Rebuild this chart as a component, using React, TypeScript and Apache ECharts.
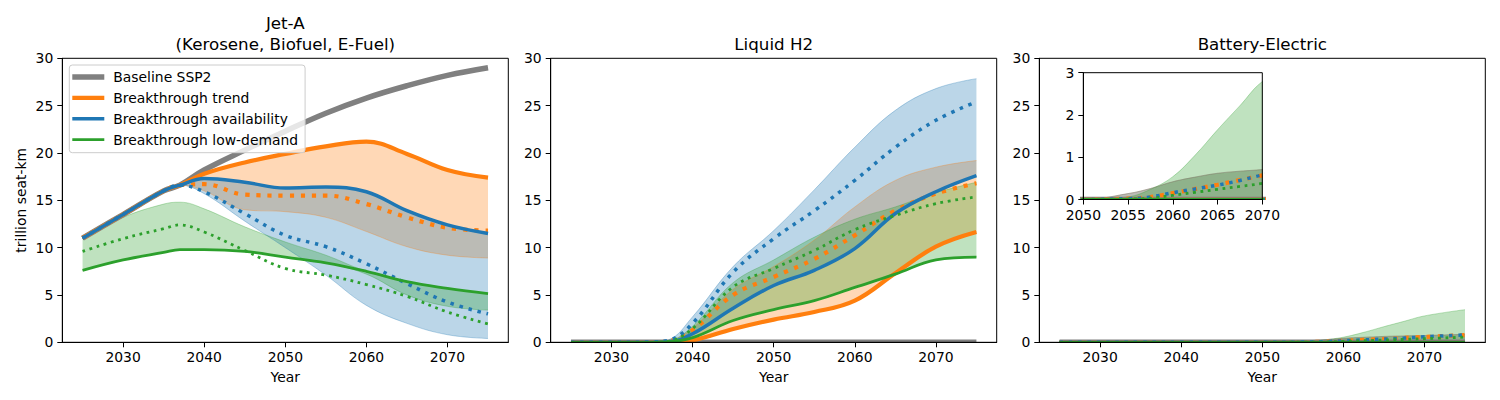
import React, { useEffect, useRef } from 'react';
import * as echarts from 'echarts';

const FONT = 'DejaVu Sans';

// ---------- data ----------
const YEARS = [2025, 2030, 2035, 2037, 2040, 2045, 2050, 2055, 2060, 2065, 2070, 2075];
const BAT_YEARS = [2025, 2030, 2035, 2040, 2045, 2050, 2055, 2057.5, 2060, 2062.5, 2065, 2067.5, 2070, 2075];

const X_TICKS = [2030, 2040, 2050, 2060, 2070];

const SCENARIO_NAMES = ['Baseline SSP2', 'Breakthrough trend', 'Breakthrough availability', 'Breakthrough low-demand'];
const PANEL_TITLES = ['Jet-A\n(Kerosene, Biofuel, E-Fuel)', 'Liquid H2', 'Battery-Electric'];

// Jet-A
const JET_BASELINE = [11.0, 13.5, 16.0, 16.6, 18.2, 20.3, 22.3, 24.2, 25.8, 27.1, 28.2, 29.0];
const JET_TREND_SOLID = [11.0, 13.5, 16.0, 16.6, 17.8, 19.0, 19.9, 20.7, 21.2, 19.9, 18.2, 17.4];
const JET_TREND_DOTTED = [11.0, 13.5, 16.0, 16.6, 16.7, 15.6, 15.5, 15.5, 14.6, 13.2, 12.1, 11.8];
const JET_TREND_BAND = [11.0, 13.5, 16.0, 16.6, 16.0, 14.0, 13.8, 13.2, 11.7, 10.1, 9.2, 8.9];
const JET_AVAIL_SOLID = [11.0, 13.5, 16.0, 16.6, 17.3, 16.9, 16.3, 16.4, 15.9, 13.9, 12.4, 11.5];
const JET_AVAIL_DOTTED = [11.0, 13.5, 16.0, 16.6, 15.9, 13.6, 11.3, 10.1, 8.3, 6.2, 4.25, 3.0];
const JET_AVAIL_BAND = [11.0, 13.5, 16.0, 16.6, 15.7, 12.8, 10.0, 7.1, 3.9, 2.0, 0.8, 0.4];
const JET_LOW_SOLID = [7.6, 8.7, 9.5, 9.8, 9.8, 9.6, 9.0, 8.4, 7.5, 6.4, 5.7, 5.15];
const JET_LOW_DOTTED = [9.6, 10.95, 12.0, 12.4, 11.65, 9.7, 7.8, 7.1, 6.1, 4.85, 3.2, 1.95];
const JET_LOW_BAND = [11.0, 13.2, 14.6, 14.8, 14.1, 12.2, 10.6, 9.2, 7.2, 5.0, 3.8, 3.4];

// Liquid H2
const H2_BASELINE = [0, 0, 0, 0, 0, 0, 0, 0, 0, 0, 0, 0];
const H2_TREND_SOLID = [0, 0, 0, 0, 0.2, 1.4, 2.4, 3.2, 4.4, 7.3, 10.1, 11.65];
const H2_TREND_DOTTED = [0, 0, 0, 0.1, 1.3, 5.0, 6.9, 8.8, 11.3, 13.9, 15.7, 16.8];
const H2_TREND_BAND = [0, 0, 0, 0.12, 1.5, 5.6, 8.0, 10.8, 14.3, 17.1, 18.5, 19.2];
const H2_AVAIL_SOLID = [0, 0, 0, 0.05, 0.9, 3.6, 6.0, 7.6, 9.9, 13.6, 15.9, 17.6];
const H2_AVAIL_DOTTED = [0, 0, 0.05, 0.2, 2.0, 7.4, 10.95, 13.9, 17.1, 20.6, 23.45, 25.4];
const H2_AVAIL_BAND = [0, 0, 0.05, 0.25, 2.7, 8.0, 11.8, 16.1, 20.6, 24.5, 26.8, 27.85];
const H2_LOW_SOLID = [0, 0, 0, 0.05, 0.5, 2.3, 3.45, 4.4, 5.8, 7.2, 8.7, 9.0];
const H2_LOW_DOTTED = [0, 0, 0, 0.1, 1.45, 5.85, 7.8, 9.7, 11.9, 13.4, 14.65, 15.35];
const H2_LOW_BAND = [0, 0, 0, 0.12, 1.7, 6.3, 8.7, 11.1, 13.0, 14.3, 15.8, 16.9];

// Battery-Electric
const BAT_BASELINE = [0, 0, 0, 0, 0, 0, 0, 0, 0, 0, 0, 0, 0, 0];
const BAT_TREND_SOLID = [0, 0, 0, 0, 0, 0, 0, 0, 0, 0, 0, 0, 0, 0];
const BAT_TREND_DOTTED = [0, 0, 0, 0, 0, 0, 0.02, 0.06, 0.15, 0.25, 0.35, 0.46, 0.57, 0.77];
const BAT_TREND_BAND = [0, 0, 0, 0, 0, 0, 0.14, 0.26, 0.42, 0.53, 0.62, 0.67, 0.71, 0.85];
const BAT_AVAIL_SOLID = [0, 0, 0, 0, 0, 0, 0, 0, 0, 0, 0, 0, 0, 0];
const BAT_AVAIL_DOTTED = [0, 0, 0, 0, 0, 0, 0.02, 0.06, 0.16, 0.25, 0.34, 0.45, 0.58, 0.78];
const BAT_AVAIL_BAND = [0, 0, 0, 0, 0, 0, 0.14, 0.26, 0.42, 0.53, 0.62, 0.67, 0.71, 0.85];
const BAT_LOW_SOLID = [0, 0, 0, 0, 0, 0, 0, 0, 0, 0, 0, 0, 0, 0];
const BAT_LOW_DOTTED = [0, 0, 0, 0, 0, 0, 0.01, 0.03, 0.1, 0.17, 0.24, 0.31, 0.38, 0.55];
const BAT_LOW_BAND = [0, 0, 0, 0, 0, 0, 0.06, 0.24, 0.54, 1.05, 1.65, 2.22, 2.79, 3.45];

// ---------- styles ----------
const STYLES = [
  { color: '#808080', width: 5.5 },
  { color: '#ff7f0e', width: 4.2 },
  { color: '#1f77b4', width: 3.5 },
  { color: '#2ca02c', width: 2.8 },
];
const SMOOTH = 0.4;
const BLACK = '#000000';

function fade(hex: string, a: number) {
  const r = parseInt(hex.slice(1, 3), 16);
  const g = parseInt(hex.slice(3, 5), 16);
  const b = parseInt(hex.slice(5, 7), 16);
  return `rgba(${r},${g},${b},${a})`;
}

type Scen = { solid: number[]; dotted: number[]; band: number[] };

function bandSeries(axis: number, years: number[], s: Scen, color: string, id: string) {
  const lo = s.solid.map((v, i) => Math.min(v, s.band[i]));
  const span = s.solid.map((v, i) => Math.abs(v - s.band[i]));
  const edge = { color: fade(color, 0.3), width: 1 };
  const common = {
    type: 'line', xAxisIndex: axis, yAxisIndex: axis, stack: id,
    dimensions: ['v', 'year'], encode: { x: 1, y: 0 },
    smooth: SMOOTH, symbol: 'none', silent: true, emphasis: { disabled: true },
    lineStyle: edge, z: 1,
  };
  return [
    { ...common, data: years.map((y, i) => [lo[i], y]) },
    { ...common, data: years.map((y, i) => [span[i], y]), areaStyle: { color: fade(color, 0.3), opacity: 1 } },
  ];
}

function lineSeries(axis: number, years: number[], vals: number[], st: { color: string; width: number }, dotted: boolean, name?: string) {
  return {
    type: 'line', name, xAxisIndex: axis, yAxisIndex: axis,
    data: years.map((y, i) => [y, vals[i]]),
    smooth: SMOOTH, symbol: 'none', silent: true, emphasis: { disabled: true }, z: 2,
    itemStyle: { color: st.color },
    lineStyle: { color: st.color, width: st.width, type: dotted ? [st.width, st.width * 1.65] : 'solid', cap: 'butt' },
  };
}

function panelSeries(axis: number, years: number[], baseline: number[], scen: Scen[], named: boolean) {
  const out: any[] = [];
  scen.forEach((s, k) => out.push(...bandSeries(axis, years, s, STYLES[k + 1].color, `band${axis}_${k}`)));
  out.push(lineSeries(axis, years, baseline, STYLES[0], false, named ? SCENARIO_NAMES[0] : undefined));
  scen.forEach((s, k) => {
    out.push(lineSeries(axis, years, s.solid, STYLES[k + 1], false, named ? SCENARIO_NAMES[k + 1] : undefined));
    out.push(lineSeries(axis, years, s.dotted, STYLES[k + 1], true));
  });
  return out;
}

const JET: Scen[] = [
  { solid: JET_TREND_SOLID, dotted: JET_TREND_DOTTED, band: JET_TREND_BAND },
  { solid: JET_AVAIL_SOLID, dotted: JET_AVAIL_DOTTED, band: JET_AVAIL_BAND },
  { solid: JET_LOW_SOLID, dotted: JET_LOW_DOTTED, band: JET_LOW_BAND },
];
const H2: Scen[] = [
  { solid: H2_TREND_SOLID, dotted: H2_TREND_DOTTED, band: H2_TREND_BAND },
  { solid: H2_AVAIL_SOLID, dotted: H2_AVAIL_DOTTED, band: H2_AVAIL_BAND },
  { solid: H2_LOW_SOLID, dotted: H2_LOW_DOTTED, band: H2_LOW_BAND },
];
const BAT: Scen[] = [
  { solid: BAT_TREND_SOLID, dotted: BAT_TREND_DOTTED, band: BAT_TREND_BAND },
  { solid: BAT_AVAIL_SOLID, dotted: BAT_AVAIL_DOTTED, band: BAT_AVAIL_BAND },
  { solid: BAT_LOW_SOLID, dotted: BAT_LOW_DOTTED, band: BAT_LOW_BAND },
];

const GRID_LEFTS = [62.3, 550.7, 1039.3];
const GRID_TOP = 58.3;
const GRID_W = 446;
const GRID_H = 284;
const INSET = { left: 1083.3, top: 72.7, width: 179, height: 126.8 };

const axisLineStyle = { color: BLACK, width: 1 };
const labelStyle = { color: BLACK, fontSize: 13.9, fontFamily: FONT };
const yearFmt = (v: number) => String(Math.round(v));

function iconPath(w: number) {
  return `path://M0,0h0.01v0.01h-0.01z M36,14h-0.01v-0.01h0.01z M0,${7 - w / 2}h32v${w}h-32z`;
}

function buildOption(): any {
  const grids = [
    ...GRID_LEFTS.map((l) => ({
      left: l, top: GRID_TOP, width: GRID_W, height: GRID_H, show: true, z: 4,
      borderColor: BLACK, borderWidth: 1, backgroundColor: 'transparent',
      containLabel: false, outerBoundsMode: 'none',
    })),
    { ...INSET, show: true, z: 4, borderColor: BLACK, borderWidth: 1, backgroundColor: 'transparent', containLabel: false, outerBoundsMode: 'none' },
  ];
  const xAxes = [
    ...[0, 1, 2].map((i) => ({
      type: 'value', gridIndex: i, min: 2022.5, max: 2077.5, z: 4,
      axisLine: { show: true, onZero: false, lineStyle: axisLineStyle },
      axisTick: { show: true, inside: false, length: 5, customValues: X_TICKS, lineStyle: axisLineStyle },
      axisLabel: { ...labelStyle, customValues: X_TICKS, margin: 8, formatter: yearFmt },
      splitLine: { show: false },
      name: 'Year', nameLocation: 'middle', nameGap: 28, nameMoveOverlap: false,
      nameTextStyle: labelStyle,
    })),
    {
      type: 'value', gridIndex: 3, min: 2050, max: 2070, interval: 5, z: 4,
      axisLine: { show: true, onZero: false, lineStyle: axisLineStyle },
      axisTick: { show: true, inside: false, length: 5, lineStyle: axisLineStyle },
      axisLabel: { ...labelStyle, margin: 8, showMinLabel: true, showMaxLabel: true, formatter: yearFmt },
      splitLine: { show: false },
    },
  ];
  const yAxes = [
    ...[0, 1, 2].map((i) => ({
      type: 'value', gridIndex: i, min: 0, max: 30, interval: 5, z: 4,
      axisLine: { show: true, onZero: false, lineStyle: axisLineStyle },
      axisTick: { show: true, inside: false, length: 5, lineStyle: axisLineStyle },
      axisLabel: { ...labelStyle, margin: 9 },
      splitLine: { show: false },
      name: i === 0 ? 'trillion seat-km' : '', nameLocation: 'middle', nameGap: 34, nameMoveOverlap: false,
      nameTextStyle: labelStyle,
    })),
    {
      type: 'value', gridIndex: 3, min: 0, max: 3, interval: 1, z: 4,
      axisLine: { show: true, onZero: false, lineStyle: axisLineStyle },
      axisTick: { show: true, inside: false, length: 5, lineStyle: axisLineStyle },
      axisLabel: { ...labelStyle, margin: 9 },
      splitLine: { show: false },
    },
  ];

  const series = [
    ...panelSeries(0, YEARS, JET_BASELINE, JET, true),
    ...panelSeries(1, YEARS, H2_BASELINE, H2, false),
    ...panelSeries(2, BAT_YEARS, BAT_BASELINE, BAT, false),
    ...panelSeries(3, BAT_YEARS, BAT_BASELINE, BAT, false),
  ];

  const titleY = [33.5, 44, 44];
  const titles = PANEL_TITLES.map((t, i) => ({
    type: 'text', x: GRID_LEFTS[i] + GRID_W / 2, y: titleY[i], silent: true,
    style: {
      text: t, fontSize: 16.7, fontFamily: FONT, fill: BLACK, lineHeight: 21,
      textAlign: 'center', align: 'center', textVerticalAlign: 'middle', verticalAlign: 'middle',
    },
  }));
  // white masks below each plot area so that lines lying on y = 0 are cut at the axis like in matplotlib
  const masks = [
    ...GRID_LEFTS.map((l) => ({
      type: 'rect', silent: true, z: 3,
      shape: { x: l - 4, y: GRID_TOP + GRID_H + 0.5, width: GRID_W + 8, height: 4 },
      style: { fill: '#ffffff' },
    })),
    {
      type: 'rect', silent: true, z: 3,
      shape: { x: INSET.left - 4, y: INSET.top + INSET.height + 0.5, width: INSET.width + 8, height: 4 },
      style: { fill: '#ffffff' },
    },
  ];

  return {
    animation: false,
    backgroundColor: '#ffffff',
    textStyle: { fontFamily: FONT },
    grid: grids,
    xAxis: xAxes,
    yAxis: yAxes,
    legend: {
      show: true, left: 69.3, top: 65, orient: 'vertical', z: 6,
      itemWidth: 36, itemHeight: 14, itemGap: 6.9,
      padding: [5, 7, 6, 3],
      backgroundColor: 'rgba(255,255,255,0.8)', borderColor: '#cccccc', borderWidth: 1, borderRadius: 3,
      selectedMode: false,
      textStyle: { ...labelStyle, lineHeight: 14 },
      itemStyle: { borderWidth: 0 },
      data: SCENARIO_NAMES.map((n, k) => ({
        name: n, icon: iconPath(STYLES[k].width),
        itemStyle: { color: STYLES[k].color, borderWidth: 0 },
      })),
    },
    graphic: { elements: [...masks, ...titles] },
    series,
  };
}

export default function App() {
  const ref = useRef<HTMLDivElement>(null);
  useEffect(() => {
    const chart = echarts.init(ref.current as HTMLDivElement, null, { renderer: 'svg' });
    chart.setOption(buildOption());
    return () => chart.dispose();
  }, []);
  return (
    <div
      ref={ref}
      style={{ position: 'fixed', left: 0, top: 0, width: 1500, height: 400, background: '#ffffff' }}
    />
  );
}
